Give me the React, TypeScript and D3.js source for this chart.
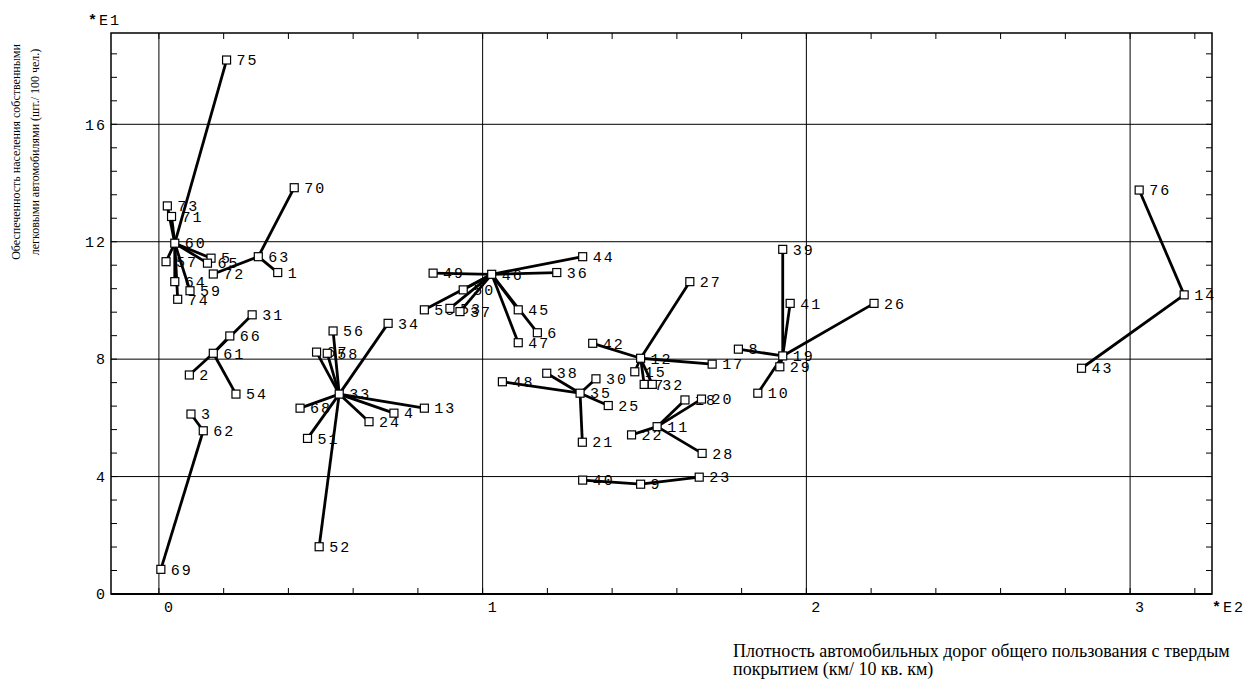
import React from "react";
import * as d3 from "d3";

// point numbers, coordinates (x in E2, y in E1) and the cluster centre each point is tied to
const labels = [
  "60", "75", "73", "71", "57", "5", "65", "64", "59", "74",
  "63", "70", "1", "72",
  "61", "2", "54", "66", "31",
  "62", "3", "69",
  "33", "56", "34", "67", "58", "68", "51", "24", "4", "13", "52",
  "46", "49", "44", "36", "50", "55", "53", "37", "45", "6", "47",
  "12", "27", "42", "17", "15", "7", "32",
  "35", "48", "38", "30", "25", "21",
  "11", "18", "20", "22", "28",
  "9", "40", "23",
  "19", "39", "41", "26", "8", "29", "10",
  "14", "76", "43",
];
const xValues = [
  0.049, 0.209, 0.026, 0.039, 0.022, 0.161, 0.15, 0.049, 0.096, 0.058,
  0.307, 0.418, 0.367, 0.168,
  0.168, 0.094, 0.238, 0.219, 0.288,
  0.137, 0.099, 0.006,
  0.557, 0.538, 0.708, 0.487, 0.52, 0.436, 0.459, 0.649, 0.726, 0.82, 0.495,
  1.028, 0.847, 1.309, 1.229, 0.94, 0.82, 0.899, 0.93, 1.11, 1.169, 1.11,
  1.488, 1.64, 1.34, 1.709, 1.47, 1.499, 1.524,
  1.301, 1.061, 1.198, 1.35, 1.388, 1.308,
  1.539, 1.625, 1.676, 1.46, 1.678,
  1.488, 1.309, 1.669,
  1.927, 1.927, 1.95, 2.209, 1.79, 1.918, 1.85,
  3.167, 3.028, 2.85,
];
const yValues = [
  11.95, 18.19, 13.22, 12.86, 11.32, 11.44, 11.27, 10.64, 10.33, 10.04,
  11.49, 13.84, 10.95, 10.9,
  8.2, 7.46, 6.81, 8.79, 9.51,
  5.56, 6.13, 0.84,
  6.81, 8.96, 9.22, 8.24, 8.2, 6.33, 5.3, 5.87, 6.16, 6.33, 1.61,
  10.89, 10.93, 11.49, 10.95, 10.36, 9.68, 9.73, 9.62, 9.68, 8.9, 8.56,
  8.03, 10.64, 8.54, 7.83, 7.57, 7.14, 7.14,
  6.84, 7.23, 7.52, 7.33, 6.42, 5.17,
  5.7, 6.61, 6.64, 5.42, 4.79,
  3.74, 3.88, 3.98,
  8.11, 11.74, 9.9, 9.9, 8.34, 7.74, 6.84,
  10.19, 13.76, 7.69,
];
const centres = [
  "60", "60", "60", "60", "60", "60", "60", "60", "60", "60",
  "63", "63", "63", "63",
  "61", "61", "61", "61", "61",
  "62", "62", "62",
  "33", "33", "33", "33", "33", "33", "33", "33", "33", "33", "33",
  "46", "46", "46", "46", "46", "46", "46", "46", "46", "46", "46",
  "12", "12", "12", "12", "12", "12", "12",
  "35", "35", "35", "35", "35", "35",
  "11", "11", "11", "11", "11",
  "9", "9", "9",
  "19", "19", "19", "19", "19", "19", "19",
  "14", "14", "14",
];

const xMajor = [0, 1, 2, 3];
const yMajor = [4, 8, 12, 16];
const xTickLabels = ["0", "1", "2", "3"];
const yTickLabels = ["0", "4", "8", "12", "16"];
const yTickValues = [0, 4, 8, 12, 16];

const yTitle = [
  "Обеспеченность населения собственными",
  "легковыми автомобилями (шт./ 100 чел.)",
];
const xTitle = [
  "Плотность автомобильных дорог общего пользования с твердым",
  "покрытием (км/ 10 кв. км)",
];

const W = 1249;
const H = 679;
const left = 111, right = 1212, top = 33, bottom = 594;
const mono = "'Liberation Mono', 'DejaVu Sans Mono', monospace";
const serif = "'Liberation Serif', 'Times New Roman', serif";

export default function App() {
  const x = d3.scaleLinear().domain([-0.148, 3.253]).range([left, right]);
  const y = d3.scaleLinear().domain([0, 19.11]).range([bottom, top]);

  const pts = labels.map((l, i) => ({ l, x: xValues[i], y: yValues[i], c: centres[i] }));
  const byLabel = new Map(pts.map((p) => [p.l, p]));

  const xMinor = d3.range(0, 3.26, 0.2).filter((v) => x(v) > left + 1 && x(v) < right - 1);
  const yMinor = d3.range(0, 19.2, 0.8).filter((v) => y(v) > top + 1 && y(v) < bottom - 1);
  const tk = 6;

  return (
    <svg width={W} height={H} style={{ position: "absolute", left: 0, top: 0, background: "#fff" }}>
      <rect x={0} y={0} width={W} height={H} fill="#fff" />
      {/* grid */}
      {xMajor.map((v) => (
        <line key={"gx" + v} x1={x(v)} x2={x(v)} y1={top} y2={bottom} stroke="#000" strokeWidth={1} />
      ))}
      {yMajor.map((v) => (
        <line key={"gy" + v} x1={left} x2={right} y1={y(v)} y2={y(v)} stroke="#000" strokeWidth={1} />
      ))}
      {/* minor ticks on all four sides */}
      {xMinor.map((v) => (
        <g key={"tx" + v}>
          <line x1={x(v)} x2={x(v)} y1={bottom} y2={bottom - tk} stroke="#000" />
          <line x1={x(v)} x2={x(v)} y1={top} y2={top + tk} stroke="#000" />
        </g>
      ))}
      {yMinor.map((v) => (
        <g key={"ty" + v}>
          <line x1={left} x2={left + tk} y1={y(v)} y2={y(v)} stroke="#000" />
          <line x1={right} x2={right - tk} y1={y(v)} y2={y(v)} stroke="#000" />
        </g>
      ))}
      <rect x={left} y={top} width={right - left} height={bottom - top} fill="none" stroke="#000" strokeWidth={1.5} />
      <line x1={left} x2={right} y1={bottom} y2={bottom} stroke="#000" strokeWidth={2} />

      {/* tick labels */}
      <g fontFamily={mono} fontSize={15} letterSpacing={2} fill="#000">
        {yTickValues.map((v, i) => (
          <text key={"yl" + v} x={left - 4} y={y(v)} dy="0.35em" textAnchor="end">
            {yTickLabels[i]}
          </text>
        ))}
        {xMajor.map((v, i) => (
          <text key={"xl" + v} x={x(v) + 5} y={bottom + 13} dy="0.35em">
            {xTickLabels[i]}
          </text>
        ))}
        <text x={88} y={20} dy="0.35em">
          <tspan fontWeight="bold">*</tspan>E1
        </text>
        <text x={1212} y={bottom + 13} dy="0.35em">
          <tspan fontWeight="bold">*</tspan>E2
        </text>
      </g>

      {/* links from each point to its cluster centre */}
      {pts.map((p, i) => {
        const c = byLabel.get(p.c)!;
        if (c === p) return null;
        return (
          <line key={"ln" + i} x1={x(c.x)} y1={y(c.y)} x2={x(p.x)} y2={y(p.y)} stroke="#000" strokeWidth={2.8} />
        );
      })}

      {/* point labels */}
      <g fontFamily={mono} fontSize={15} letterSpacing={2} fill="#000">
        {pts.map((p, i) => (
          <text key={"lb" + i} x={x(p.x) + 10} y={y(p.y)} dy="0.35em">
            {p.l}
          </text>
        ))}
      </g>

      {/* markers */}
      {pts.map((p, i) => (
        <rect key={"mk" + i} x={x(p.x) - 4} y={y(p.y) - 4} width={8} height={8} fill="#fff" stroke="#000" strokeWidth={1.2} />
      ))}

      {/* axis titles */}
      <g fontFamily={serif} fill="#000">
        {yTitle.map((t, i) => (
          <text key={"yt" + i} transform={`translate(${16 + i * 19},152) rotate(-90)`} textAnchor="middle" dy="0.35em" fontSize={12}>
            {t}
          </text>
        ))}
        {xTitle.map((t, i) => (
          <text key={"xt" + i} x={733} y={651 + i * 18} dy="0.35em" fontSize={18}>
            {t}
          </text>
        ))}
      </g>
    </svg>
  );
}
